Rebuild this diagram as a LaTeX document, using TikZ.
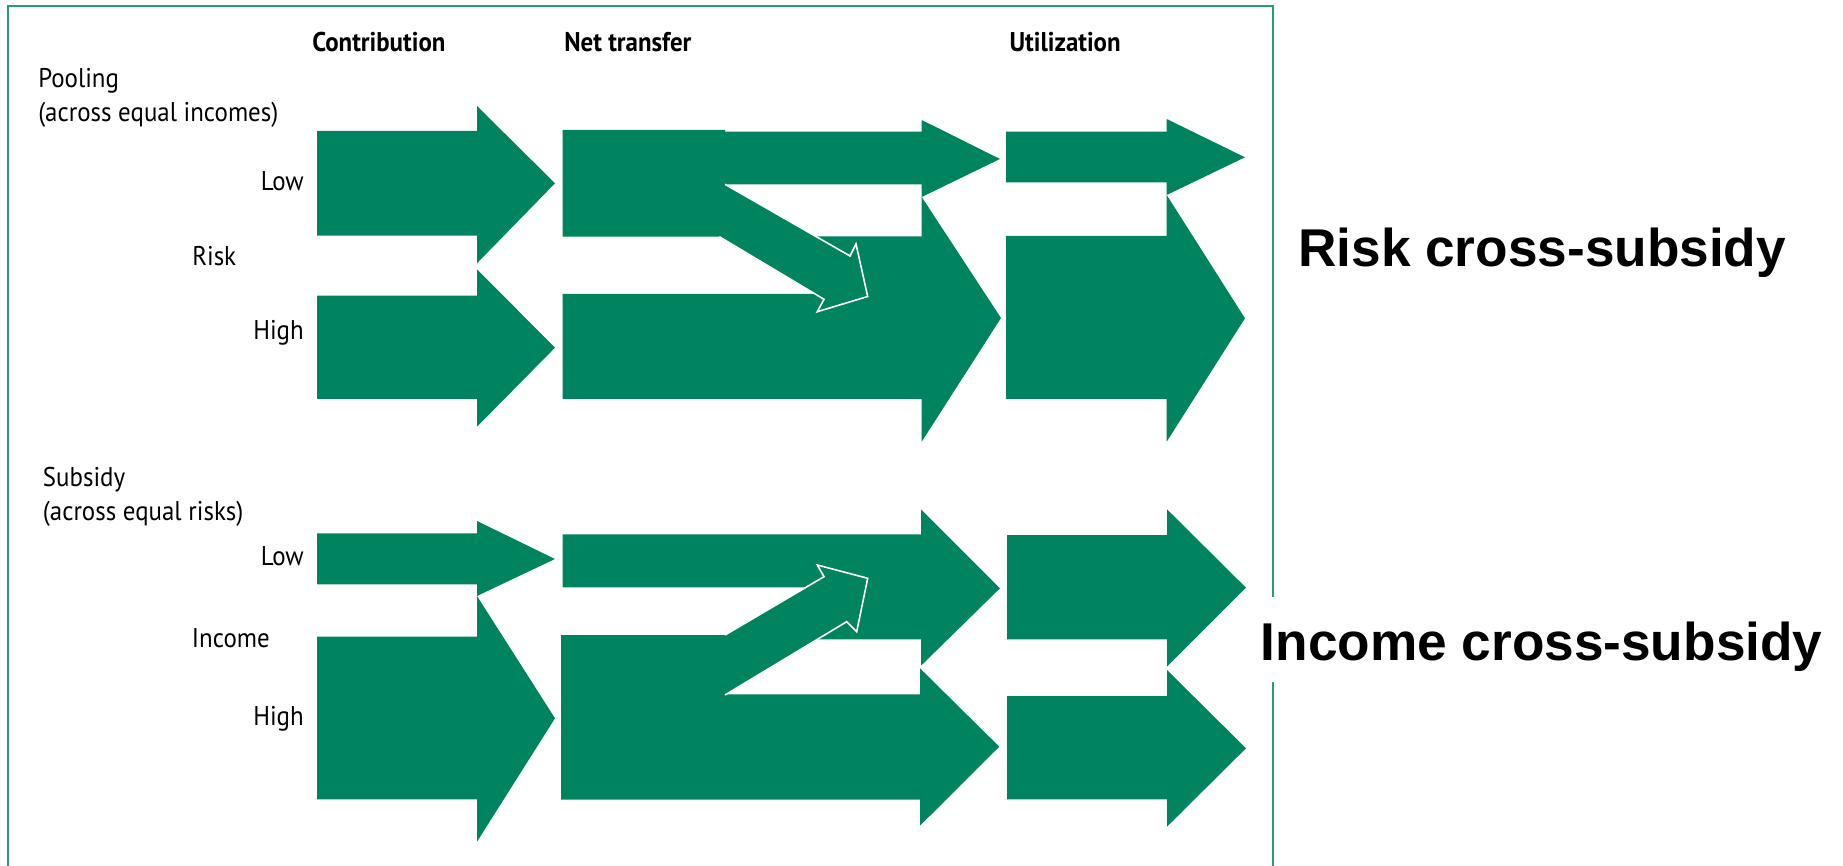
\documentclass[tikz,border=0pt]{standalone}
\usepackage{fontspec}
\setmainfont{PT Sans}[FakeStretch=0.92]
\newfontfamily\bigfont{Liberation Sans}
\definecolor{arrowgreen}{RGB}{0,132,95}
\definecolor{framegreen}{RGB}{40,155,115}
\begin{document}
\begin{tikzpicture}[x=0.75pt,y=-0.75pt,
  blk/.style={fill=arrowgreen,draw=none},
  xfer/.style={draw=white,line width=1.2pt,line join=miter},
  lbl/.style={font=\fontsize{20.3}{23}\selectfont,inner sep=0pt},
  hdr/.style={font=\fontsize{20.3}{23}\selectfont\bfseries,inner sep=0pt},
  big/.style={font=\bigfont\bfseries\fontsize{39.9}{44}\selectfont,inner sep=0pt},
  frm/.style={draw=framegreen,line width=1pt}]
\useasboundingbox (0,0) rectangle (1843,866);

% frame
\draw[frm] (8,866) -- (8,6) -- (1273,6) -- (1273,597);
\draw[frm] (1273,682) -- (1273,866);

% ---------- Contribution ----------
\fill[blk] (317,131) -- (477,131) -- (477,106) -- (555,183.3) -- (477,263.3) -- (477,235.7) -- (317,235.7) -- cycle;
\fill[blk] (317,295.7) -- (477,295.7) -- (477,269.3) -- (555,347.7) -- (477,426.7) -- (477,399) -- (317,399) -- cycle;
\fill[blk] (317,533.3) -- (477,533.3) -- (477,521) -- (555,559) -- (477,596) -- (477,584.3) -- (317,584.3) -- cycle;
\fill[blk] (317,636.7) -- (477,636.7) -- (477,596) -- (555,718.3) -- (477,841.7) -- (477,799.3) -- (317,799.3) -- cycle;

% ---------- Net transfer (risk) ----------
\fill[blk] (562.7,130) -- (725,130) -- (725,131.7) -- (921.7,131.7) -- (921.7,120) -- (1000,159) -- (921.7,197) -- (921.7,184.3) -- (725,184.3) -- (725,236.7) -- (562.7,236.7) -- cycle;
\fill[blk] (562.7,294) -- (815,294) -- (815,236.3) -- (921.7,236.3) -- (921.7,197) -- (1001,318) -- (921.7,441.7) -- (921.7,399) -- (562.7,399) -- cycle;
\fill[blk] (725,184.3) -- (850,256) -- (856,244) -- (867.7,296.5) -- (817.3,311.7) -- (824,299.3) -- (719.3,236.7) -- cycle;
\draw[xfer] (725,184.3) -- (850,256) -- (856,244) -- (867.7,296.5) -- (817.3,311.7) -- (824,299.3) -- (719.3,236.7);

% ---------- Net transfer (income) ----------
\fill[blk] (562.7,534.3) -- (921,534.3) -- (921,509.3) -- (1000,588.3) -- (921,665.7) -- (921,639.3) -- (817,639.3) -- (817,587.3) -- (562.7,587.3) -- cycle;
\fill[blk] (561,635) -- (725,635) -- (725,694.3) -- (920,694.3) -- (920,668.3) -- (999.3,746.7) -- (920,825.7) -- (920,799.5) -- (561,799.5) -- cycle;
\fill[blk] (725,695) -- (846.7,621.7) -- (856.7,631.7) -- (867.7,578.3) -- (817.3,565) -- (824,576.7) -- (725,635) -- cycle;
\draw[xfer] (725,695) -- (846.7,621.7) -- (856.7,631.7) -- (867.7,578.3) -- (817.3,565) -- (824,576.7) -- (725,635);

% ---------- Utilization ----------
\fill[blk] (1006,131.7) -- (1166.7,131.7) -- (1166.7,119) -- (1245,157.3) -- (1166.7,195) -- (1166.7,182.3) -- (1006,182.3) -- cycle;
\fill[blk] (1006,236) -- (1166.7,236) -- (1166.7,195) -- (1245,318.3) -- (1166.7,441.7) -- (1166.7,399) -- (1006,399) -- cycle;
\fill[blk] (1007,535) -- (1167,535) -- (1167,509.3) -- (1246,587.7) -- (1167,666.7) -- (1167,639.3) -- (1007,639.3) -- cycle;
\fill[blk] (1007,696) -- (1167,696) -- (1167,670) -- (1246,748.3) -- (1167,826.7) -- (1167,799.3) -- (1007,799.3) -- cycle;

% ---------- headers ----------
\node[hdr,anchor=base west] (hcon) at (312,51.7) {Contribution};
\node[hdr,anchor=base west] (hnet) at (564,51.7) {Net transfer};
\node[hdr,anchor=base west] (huti) at (1009.3,51.7) {Utilization};

% ---------- left labels ----------
\node[lbl,anchor=base west] (pool) at (38,87.3) {Pooling};
\node[lbl,anchor=base west] (pooltxt) at (38,121.7) {(across equal incomes)};
\node[lbl,anchor=base east] (rlow) at (304,190.7) {Low};
\node[lbl,anchor=base west] (risk) at (192,265.7) {Risk};
\node[lbl,anchor=base east] (rhigh) at (304,340) {High};
\node[lbl,anchor=base west] (subs) at (42.7,486.7) {Subsidy};
\node[lbl,anchor=base west] (substxt) at (42.7,520) {(across equal risks)};
\node[lbl,anchor=base east] (ilow) at (304,565) {Low};
\node[lbl,anchor=base west] (inc) at (191.7,647.3) {Income};
\node[lbl,anchor=base east] (ihigh) at (304,725) {High};

% ---------- right titles ----------
\node[big,anchor=base west] (rcs) at (1298,266.7) {Risk cross-subsidy};
\node[big,anchor=base west] (ics) at (1260.5,660) {Income cross-subsidy};
\end{tikzpicture}
\end{document}
